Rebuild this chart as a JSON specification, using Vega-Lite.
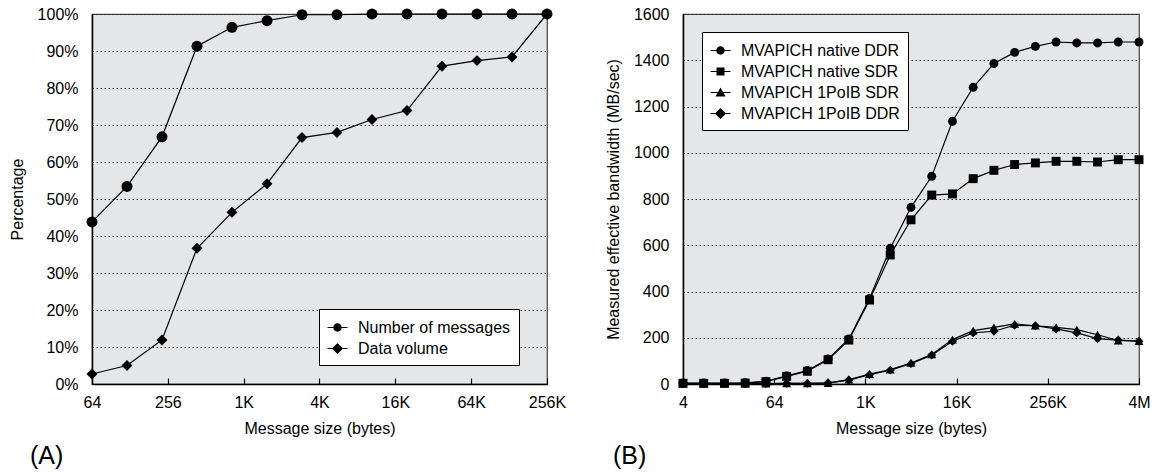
{
  "$schema": "https://vega.github.io/schema/vega-lite/v6.json",
  "padding": {"left": 8, "top": 5, "right": 5, "bottom": 5},
  "spacing": 37,
  "resolve": {"scale": {"shape": "independent"}, "legend": {"shape": "independent"}},
  "config": {
    "font": "Liberation Sans",
    "view": {"fill": "#e5e6e8", "stroke": "#444", "strokeWidth": 1.2},
    "axis": {
      "labelFont": "Liberation Sans", "titleFont": "Liberation Sans",
      "labelFontSize": 16, "titleFontSize": 16,
      "labelColor": "black", "titleColor": "black", "titleFontWeight": "normal",
      "domainColor": "black", "domainWidth": 1.5, "tickColor": "black", "tickWidth": 1.2,
      "labelFlush": false, "labelOverlap": false
    },
    "title": {"font": "Liberation Sans", "fontSize": 25, "fontWeight": "normal", "color": "black"},
    "legend": {
      "labelFont": "Liberation Sans", "labelFontSize": 16, "labelColor": "black",
      "fillColor": "white", "strokeColor": "black", "padding": 8,
      "symbolSize": 400, "rowPadding": 2, "labelOffset": 10,
      "symbolFillColor": "black", "symbolStrokeColor": "black", "symbolStrokeWidth": 0.8
    }
  },
  "datasets": {
    "a": [
      {"size": 64, "series": "Number of messages", "pct": 43.8},
      {"size": 121.35, "series": "Number of messages", "pct": 53.4},
      {"size": 230.09, "series": "Number of messages", "pct": 66.8},
      {"size": 436.29, "series": "Number of messages", "pct": 91.3},
      {"size": 827.25, "series": "Number of messages", "pct": 96.4},
      {"size": 1568.6, "series": "Number of messages", "pct": 98.2},
      {"size": 2974.1, "series": "Number of messages", "pct": 99.8},
      {"size": 5639.2, "series": "Number of messages", "pct": 99.8},
      {"size": 10692, "series": "Number of messages", "pct": 100},
      {"size": 20274, "series": "Number of messages", "pct": 100},
      {"size": 38442, "series": "Number of messages", "pct": 100},
      {"size": 72890, "series": "Number of messages", "pct": 100},
      {"size": 138208, "series": "Number of messages", "pct": 100},
      {"size": 262144, "series": "Number of messages", "pct": 100},
      {"size": 64, "series": "Data volume", "pct": 2.7},
      {"size": 121.35, "series": "Data volume", "pct": 5.0},
      {"size": 230.09, "series": "Data volume", "pct": 11.9},
      {"size": 436.29, "series": "Data volume", "pct": 36.7},
      {"size": 827.25, "series": "Data volume", "pct": 46.4},
      {"size": 1568.6, "series": "Data volume", "pct": 54.1},
      {"size": 2974.1, "series": "Data volume", "pct": 66.6},
      {"size": 5639.2, "series": "Data volume", "pct": 68.0},
      {"size": 10692, "series": "Data volume", "pct": 71.5},
      {"size": 20274, "series": "Data volume", "pct": 73.9},
      {"size": 38442, "series": "Data volume", "pct": 85.9},
      {"size": 72890, "series": "Data volume", "pct": 87.4},
      {"size": 138208, "series": "Data volume", "pct": 88.4},
      {"size": 262144, "series": "Data volume", "pct": 100}
    ],
    "b": [
      {"size": 4, "series": "MVAPICH native DDR", "bw": 4},
      {"size": 7.511, "series": "MVAPICH native DDR", "bw": 4},
      {"size": 14.11, "series": "MVAPICH native DDR", "bw": 4},
      {"size": 26.49, "series": "MVAPICH native DDR", "bw": 5},
      {"size": 49.74, "series": "MVAPICH native DDR", "bw": 12},
      {"size": 93.41, "series": "MVAPICH native DDR", "bw": 35},
      {"size": 175.4, "series": "MVAPICH native DDR", "bw": 58},
      {"size": 329.4, "series": "MVAPICH native DDR", "bw": 108},
      {"size": 618.5, "series": "MVAPICH native DDR", "bw": 195},
      {"size": 1161.5, "series": "MVAPICH native DDR", "bw": 370},
      {"size": 2181, "series": "MVAPICH native DDR", "bw": 587},
      {"size": 4096, "series": "MVAPICH native DDR", "bw": 764},
      {"size": 7692, "series": "MVAPICH native DDR", "bw": 898},
      {"size": 14445, "series": "MVAPICH native DDR", "bw": 1136},
      {"size": 27123, "series": "MVAPICH native DDR", "bw": 1283},
      {"size": 50934, "series": "MVAPICH native DDR", "bw": 1386},
      {"size": 95650, "series": "MVAPICH native DDR", "bw": 1434},
      {"size": 179614, "series": "MVAPICH native DDR", "bw": 1460},
      {"size": 337291, "series": "MVAPICH native DDR", "bw": 1479},
      {"size": 633380, "series": "MVAPICH native DDR", "bw": 1475},
      {"size": 1189418, "series": "MVAPICH native DDR", "bw": 1475},
      {"size": 2233551, "series": "MVAPICH native DDR", "bw": 1479},
      {"size": 4194304, "series": "MVAPICH native DDR", "bw": 1479},
      {"size": 4, "series": "MVAPICH native SDR", "bw": 3},
      {"size": 7.511, "series": "MVAPICH native SDR", "bw": 3},
      {"size": 14.11, "series": "MVAPICH native SDR", "bw": 3},
      {"size": 26.49, "series": "MVAPICH native SDR", "bw": 4},
      {"size": 49.74, "series": "MVAPICH native SDR", "bw": 10},
      {"size": 93.41, "series": "MVAPICH native SDR", "bw": 33},
      {"size": 175.4, "series": "MVAPICH native SDR", "bw": 55},
      {"size": 329.4, "series": "MVAPICH native SDR", "bw": 105},
      {"size": 618.5, "series": "MVAPICH native SDR", "bw": 190},
      {"size": 1161.5, "series": "MVAPICH native SDR", "bw": 363},
      {"size": 2181, "series": "MVAPICH native SDR", "bw": 558},
      {"size": 4096, "series": "MVAPICH native SDR", "bw": 710},
      {"size": 7692, "series": "MVAPICH native SDR", "bw": 817},
      {"size": 14445, "series": "MVAPICH native SDR", "bw": 822},
      {"size": 27123, "series": "MVAPICH native SDR", "bw": 888},
      {"size": 50934, "series": "MVAPICH native SDR", "bw": 924},
      {"size": 95650, "series": "MVAPICH native SDR", "bw": 949},
      {"size": 179614, "series": "MVAPICH native SDR", "bw": 956},
      {"size": 337291, "series": "MVAPICH native SDR", "bw": 963},
      {"size": 633380, "series": "MVAPICH native SDR", "bw": 963},
      {"size": 1189418, "series": "MVAPICH native SDR", "bw": 960},
      {"size": 2233551, "series": "MVAPICH native SDR", "bw": 970},
      {"size": 4194304, "series": "MVAPICH native SDR", "bw": 970},
      {"size": 4, "series": "MVAPICH 1PoIB SDR", "bw": 2},
      {"size": 7.511, "series": "MVAPICH 1PoIB SDR", "bw": 2},
      {"size": 14.11, "series": "MVAPICH 1PoIB SDR", "bw": 2},
      {"size": 26.49, "series": "MVAPICH 1PoIB SDR", "bw": 2},
      {"size": 49.74, "series": "MVAPICH 1PoIB SDR", "bw": 2},
      {"size": 93.41, "series": "MVAPICH 1PoIB SDR", "bw": 3},
      {"size": 175.4, "series": "MVAPICH 1PoIB SDR", "bw": 3},
      {"size": 329.4, "series": "MVAPICH 1PoIB SDR", "bw": 4},
      {"size": 618.5, "series": "MVAPICH 1PoIB SDR", "bw": 19},
      {"size": 1161.5, "series": "MVAPICH 1PoIB SDR", "bw": 43},
      {"size": 2181, "series": "MVAPICH 1PoIB SDR", "bw": 62},
      {"size": 4096, "series": "MVAPICH 1PoIB SDR", "bw": 91},
      {"size": 7692, "series": "MVAPICH 1PoIB SDR", "bw": 128},
      {"size": 14445, "series": "MVAPICH 1PoIB SDR", "bw": 192},
      {"size": 27123, "series": "MVAPICH 1PoIB SDR", "bw": 231},
      {"size": 50934, "series": "MVAPICH 1PoIB SDR", "bw": 245},
      {"size": 95650, "series": "MVAPICH 1PoIB SDR", "bw": 260},
      {"size": 179614, "series": "MVAPICH 1PoIB SDR", "bw": 252},
      {"size": 337291, "series": "MVAPICH 1PoIB SDR", "bw": 245},
      {"size": 633380, "series": "MVAPICH 1PoIB SDR", "bw": 235},
      {"size": 1189418, "series": "MVAPICH 1PoIB SDR", "bw": 213},
      {"size": 2233551, "series": "MVAPICH 1PoIB SDR", "bw": 188},
      {"size": 4194304, "series": "MVAPICH 1PoIB SDR", "bw": 185},
      {"size": 4, "series": "MVAPICH 1PoIB DDR", "bw": 2},
      {"size": 7.511, "series": "MVAPICH 1PoIB DDR", "bw": 2},
      {"size": 14.11, "series": "MVAPICH 1PoIB DDR", "bw": 2},
      {"size": 26.49, "series": "MVAPICH 1PoIB DDR", "bw": 2},
      {"size": 49.74, "series": "MVAPICH 1PoIB DDR", "bw": 2},
      {"size": 93.41, "series": "MVAPICH 1PoIB DDR", "bw": 3},
      {"size": 175.4, "series": "MVAPICH 1PoIB DDR", "bw": 3},
      {"size": 329.4, "series": "MVAPICH 1PoIB DDR", "bw": 5},
      {"size": 618.5, "series": "MVAPICH 1PoIB DDR", "bw": 17},
      {"size": 1161.5, "series": "MVAPICH 1PoIB DDR", "bw": 40},
      {"size": 2181, "series": "MVAPICH 1PoIB DDR", "bw": 60},
      {"size": 4096, "series": "MVAPICH 1PoIB DDR", "bw": 88},
      {"size": 7692, "series": "MVAPICH 1PoIB DDR", "bw": 125},
      {"size": 14445, "series": "MVAPICH 1PoIB DDR", "bw": 185},
      {"size": 27123, "series": "MVAPICH 1PoIB DDR", "bw": 221},
      {"size": 50934, "series": "MVAPICH 1PoIB DDR", "bw": 228},
      {"size": 95650, "series": "MVAPICH 1PoIB DDR", "bw": 254},
      {"size": 179614, "series": "MVAPICH 1PoIB DDR", "bw": 252},
      {"size": 337291, "series": "MVAPICH 1PoIB DDR", "bw": 238},
      {"size": 633380, "series": "MVAPICH 1PoIB DDR", "bw": 221},
      {"size": 1189418, "series": "MVAPICH 1PoIB DDR", "bw": 196},
      {"size": 2233551, "series": "MVAPICH 1PoIB DDR", "bw": 190},
      {"size": 4194304, "series": "MVAPICH 1PoIB DDR", "bw": 185}
    ]
  },
  "hconcat": [
    {
      "width": 455, "height": 370,
      "data": {"name": "a"},
      "title": {"text": "(A)", "orient": "bottom", "anchor": "start", "frame": "group", "dx": -62, "offset": 8},
      "resolve": {"scale": {"shape": "independent"}, "legend": {"shape": "independent"}},
      "encoding": {
        "x": {"field": "size", "type": "quantitative",
          "scale": {"type": "log", "base": 2, "domain": [64, 262144], "nice": false},
          "axis": {"values": [64, 256, 1024, 4096, 16384, 65536, 262144],
            "labelExpr": "datum.value >= 1048576 ? (datum.value / 1048576) + 'M' : datum.value >= 1024 ? (datum.value / 1024) + 'K' : '' + datum.value",
            "title": "Message size (bytes)", "grid": false, "tickSize": -6, "labelPadding": 16, "titlePadding": 10}},
        "y": {"field": "pct", "type": "quantitative",
          "scale": {"domain": [0, 100], "nice": false},
          "axis": {"values": [0, 10, 20, 30, 40, 50, 60, 70, 80, 90, 100],
            "labelExpr": "datum.value + '%'", "title": "Percentage", "ticks": false,
            "labelPadding": 14, "titlePadding": 12, "grid": true, "gridDash": [1.5, 2.5], "gridColor": "#222", "gridWidth": 1}}
      },
      "layer": [
        {"mark": {"type": "line", "color": "black", "strokeWidth": 1.2},
          "encoding": {"detail": {"field": "series"}}},
        {"mark": {"type": "point", "filled": true, "color": "black", "opacity": 1, "size": 120},
          "encoding": {
            "shape": {"field": "series", "type": "nominal",
              "scale": {"domain": ["Number of messages", "Data volume"], "range": ["circle", "diamond"]},
              "legend": null}}},
        {"mark": {"type": "point", "filled": true, "color": "black", "opacity": 1, "size": 0},
          "encoding": {
            "shape": {"field": "series", "type": "nominal",
              "scale": {"domain": ["Number of messages", "Data volume"],
                "range": ["M-1,-0.06H1V0.06H-1ZM0.42,0A0.42,0.42,0,1,1,-0.42,0A0.42,0.42,0,1,1,0.42,0Z", "M-1,-0.06H1V0.06H-1ZM0,-0.55L0.55,0L0,0.55L-0.55,0Z"]},
              "legend": {"orient": "none", "legendX": 227, "legendY": 295, "title": null}}}}
      ]
    },
    {
      "width": 456, "height": 370,
      "data": {"name": "b"},
      "title": {"text": "(B)", "orient": "bottom", "anchor": "start", "frame": "group", "dx": -70, "offset": 8},
      "resolve": {"scale": {"shape": "independent"}, "legend": {"shape": "independent"}},
      "encoding": {
        "x": {"field": "size", "type": "quantitative",
          "scale": {"type": "log", "base": 2, "domain": [4, 4194304], "nice": false},
          "axis": {"values": [4, 64, 1024, 16384, 262144, 4194304],
            "labelExpr": "datum.value >= 1048576 ? (datum.value / 1048576) + 'M' : datum.value >= 1024 ? (datum.value / 1024) + 'K' : '' + datum.value",
            "title": "Message size (bytes)", "grid": false, "tickSize": -6, "labelPadding": 16, "titlePadding": 10}},
        "y": {"field": "bw", "type": "quantitative",
          "scale": {"domain": [0, 1600], "nice": false},
          "axis": {"values": [0, 200, 400, 600, 800, 1000, 1200, 1400, 1600], "format": "d",
            "title": "Measured effective bandwidth (MB/sec)", "ticks": false,
            "labelPadding": 14, "titlePadding": 12, "grid": true, "gridDash": [1.5, 2.5], "gridColor": "#222", "gridWidth": 1}}
      },
      "layer": [
        {"mark": {"type": "line", "color": "black", "strokeWidth": 1.2},
          "encoding": {"detail": {"field": "series"}}},
        {"mark": {"type": "point", "filled": true, "color": "black", "opacity": 1, "size": 80},
          "encoding": {
            "shape": {"field": "series", "type": "nominal",
              "scale": {"domain": ["MVAPICH native DDR", "MVAPICH native SDR", "MVAPICH 1PoIB SDR", "MVAPICH 1PoIB DDR"], "range": ["circle", "square", "triangle-up", "diamond"]},
              "legend": null}}},
        {"mark": {"type": "point", "filled": true, "color": "black", "opacity": 1, "size": 0},
          "encoding": {
            "shape": {"field": "series", "type": "nominal",
              "scale": {"domain": ["MVAPICH native DDR", "MVAPICH native SDR", "MVAPICH 1PoIB SDR", "MVAPICH 1PoIB DDR"],
                "range": ["M-1,-0.06H1V0.06H-1ZM0.42,0A0.42,0.42,0,1,1,-0.42,0A0.42,0.42,0,1,1,0.42,0Z", "M-1,-0.06H1V0.06H-1ZM-0.4,-0.4H0.4V0.4H-0.4Z", "M-1,-0.06H1V0.06H-1ZM0,-0.5L0.5,0.4H-0.5Z", "M-1,-0.06H1V0.06H-1ZM0,-0.55L0.55,0L0,0.55L-0.55,0Z"]},
              "legend": {"orient": "none", "legendX": 19, "legendY": 18, "title": null}}}}
      ]
    }
  ]
}
